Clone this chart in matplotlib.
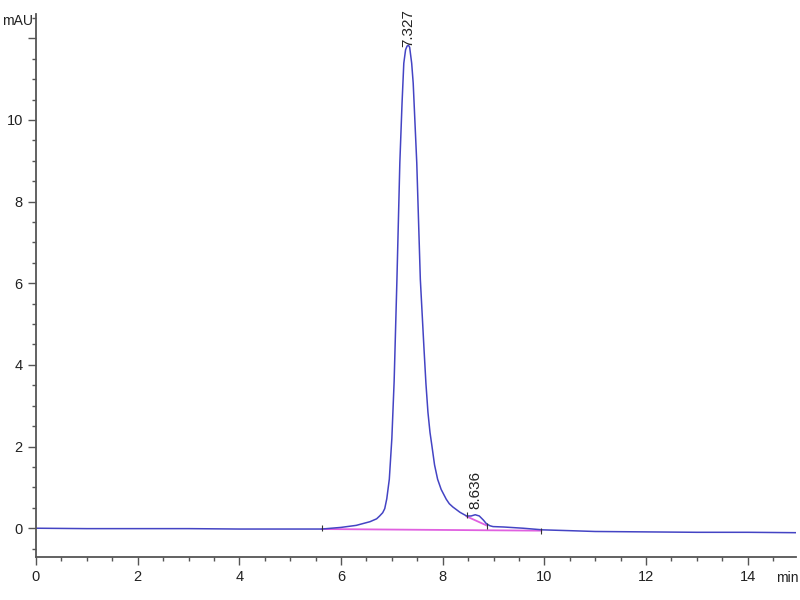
import matplotlib.pyplot as plt
from matplotlib.ticker import MultipleLocator

plt.rcParams['font.family'] = ['Liberation Sans', 'DejaVu Sans']

# chromatogram (min, mAU)
time = [0, 1, 2, 3, 4, 5, 5.62, 6.0, 6.3, 6.57, 6.70, 6.76, 6.82, 6.86,
        6.9, 6.95, 7.0, 7.045, 7.10, 7.157, 7.20, 7.235, 7.27, 7.30, 7.327,
        7.35, 7.39, 7.42, 7.49, 7.56, 7.63, 7.67, 7.71, 7.75, 7.79, 7.84,
        7.90, 7.97, 8.07, 8.13, 8.20, 8.34, 8.47, 8.56, 8.64, 8.72, 8.80,
        8.86, 8.93, 8.99, 9.2, 9.58, 9.97, 10.5, 11, 12, 13, 14, 15]
mau = [0.0, -0.01, -0.01, -0.01, -0.02, -0.02, -0.02, 0.02, 0.07, 0.16,
       0.23, 0.30, 0.38, 0.48, 0.72, 1.2, 2.2, 3.6, 6.1, 8.95, 10.4, 11.39,
       11.72, 11.81, 11.83, 11.78, 11.39, 10.9, 8.95, 6.1, 4.45, 3.55, 2.84,
       2.35, 2.0, 1.55, 1.2, 0.95, 0.71, 0.60, 0.52, 0.39, 0.30, 0.30, 0.33,
       0.30, 0.20, 0.11, 0.06, 0.04, 0.03, 0.0, -0.04, -0.06, -0.08, -0.09,
       -0.10, -0.10, -0.11]

# integration baselines
base_t = [5.62, 9.94]
base_v = [-0.02, -0.06]
skim_t = [8.47, 8.86]
skim_v = [0.29, 0.07]

peak_rt = [7.327, 8.636]
peak_h = [11.83, 0.33]
peak_lbl = ['7.327', '8.636']
lbl_gap = [-1, 4]   # points between peak top and label

marks_t = [5.62, 8.47, 8.88, 9.94]
marks_v = [0.0, 0.32, 0.05, -0.08]

fig = plt.figure(figsize=(8, 6), dpi=100)
ax = fig.add_axes([0.045, 0.072, 0.95, 0.905])

ax.plot(base_t, base_v, color='#e060e0', lw=1.3)
ax.plot(skim_t, skim_v, color='#e060e0', lw=1.3)
ax.plot(time, mau, color='#4444c4', lw=1.1)
ax.plot(marks_t, marks_v, ls='none', marker='|', ms=5, color='#333333', mew=0.8)

for x, h, s, g in zip(peak_rt, peak_h, peak_lbl, lbl_gap):
    ax.annotate(s, (x, h), xytext=(0, g), textcoords='offset points',
                rotation=90, ha='center', va='bottom', fontsize=11,
                color='#222222')

ax.set_xlim(0, 14.95)
ax.set_ylim(-0.7, 12.6)
ax.xaxis.set_major_locator(MultipleLocator(2))
ax.xaxis.set_minor_locator(MultipleLocator(0.5))
ax.yaxis.set_minor_locator(MultipleLocator(0.5))
ax.set_yticks([0, 2, 4, 6, 8, 10, 12])
ax.set_yticklabels(['0', '2', '4', '6', '8', '10', ''])

for s in ['top', 'right']:
    ax.spines[s].set_visible(False)
for s in ['left', 'bottom']:
    ax.spines[s].set_color('#555555')
    ax.spines[s].set_linewidth(1.3)
ax.tick_params(which='major', length=6, width=1, color='#555555',
               labelsize=10.5, labelcolor='#222222')
ax.tick_params(which='minor', length=3, width=1, color='#555555')

fig.text(0.003, 0.965, 'mAU', fontsize=10, color='#222222', va='center')
fig.text(0.998, 0.036, 'min', fontsize=10, color='#222222', va='center', ha='right')

fig.savefig('out.png')
